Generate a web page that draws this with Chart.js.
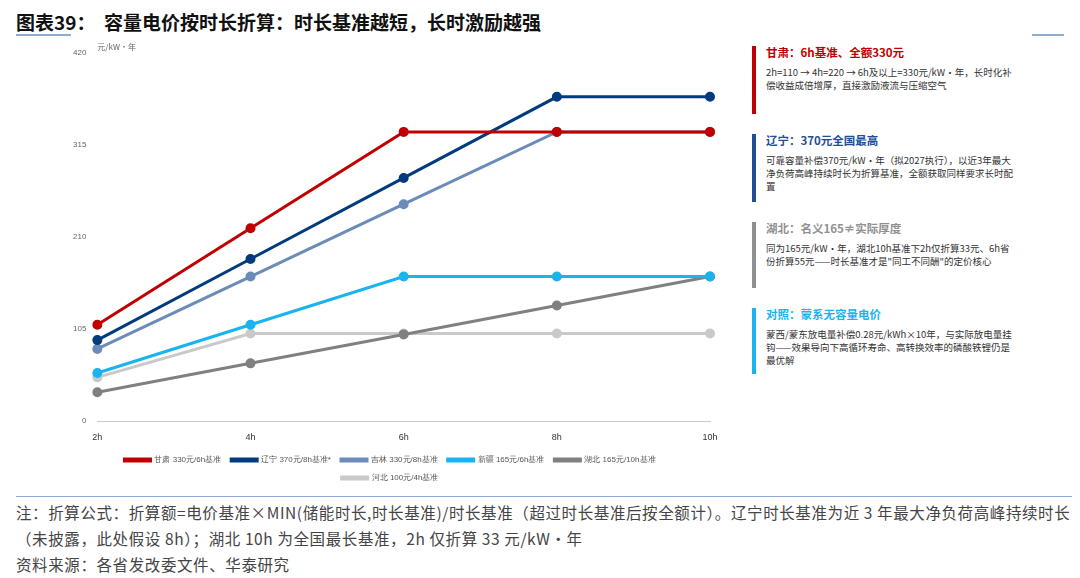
<!DOCTYPE html>
<html><head><meta charset="utf-8">
<script src="https://cdn.jsdelivr.net/npm/chart.js@4"></script>
<style>
body{margin:0;width:1080px;height:578px;background:#fff;font-family:"Noto Sans CJK SC","Noto Sans",sans-serif;position:relative;overflow:hidden}
#title{position:absolute;left:16px;top:8px;font-size:19px;font-weight:bold;color:#111}
.ln{position:absolute;height:2px;background:#8eaad6}
#wrap{position:absolute;left:40px;top:40px;width:690px;height:452px}
.note{position:absolute;left:752px;width:252px;border-left:4px solid;padding-left:10px;font-size:9.5px;color:#333;line-height:13px}
.note b{display:block;font-size:11.5px;margin-bottom:7px}
#foot{position:absolute;left:16px;top:496px;width:1056px;font-size:15.5px;color:#444;line-height:26px;border-top:1.5px solid #8eaad6;padding-top:2px;letter-spacing:0.6px}
</style></head><body>
<div id="title">图表39：&nbsp; 容量电价按时长折算：时长基准越短，长时激励越强</div>
<div class="ln" style="left:16px;top:34px;width:55px"></div>
<div class="ln" style="left:1032px;top:34px;width:32px"></div>
<div id="wrap"><canvas id="c" width="690" height="452"></canvas></div>
<div class="note" style="top:46px;height:68px;border-color:#c00000"><b style="color:#c00000">甘肃：6h基准、全额330元</b>2h=110 → 4h=220 → 6h及以上=330元/kW·年，长时化补偿收益成倍增厚，直接激励液流与压缩空气</div>
<div class="note" style="top:134px;height:68px;border-color:#1f4e96"><b style="color:#1f4e96">辽宁：370元全国最高</b>可靠容量补偿370元/kW·年（拟2027执行），以近3年最大净负荷高峰持续时长为折算基准，全额获取同样要求长时配置</div>
<div class="note" style="top:222px;height:66px;border-color:#909090"><b style="color:#909090">湖北：名义165≠实际厚度</b>同为165元/kW·年，湖北10h基准下2h仅折算33元、6h省份折算55元——时长基准才是"同工不同酬"的定价核心</div>
<div class="note" style="top:308px;height:66px;border-color:#19b4ef"><b style="color:#19b4ef">对照：蒙系无容量电价</b>蒙西/蒙东放电量补偿0.28元/kWh×10年，与实际放电量挂钩——效果导向下高循环寿命、高转换效率的磷酸铁锂仍是最优解</div>
<div id="foot">注：折算公式：折算额=电价基准×MIN(储能时长,时长基准)/时长基准（超过时长基准后按全额计）。辽宁时长基准为近 3 年最大净负荷高峰持续时长（未披露，此处假设 8h）；湖北 10h 为全国最长基准，2h 仅折算 33 元/kW·年<br>资料来源：各省发改委文件、华泰研究</div>
<script>
const categories=["2h","4h","6h","8h","10h"];
const gansu=[110,220,330,330,330];
const liaoning=[92.5,185,277.5,370,370];
const jilin=[82.5,165,247.5,330,330];
const xinjiang=[55,110,165,165,165];
const hubei=[33,66,99,132,165];
const hebei=[50,100,100,100,100];
const yTicks=[0,105,210,315,420];
const names=["甘肃 330元/6h基准","辽宁 370元/8h基准*","吉林 330元/8h基准","新疆 165元/6h基准","湖北 165元/10h基准","河北 100元/4h基准"];
const colors=["#c00000","#003b7e","#6b8bb8","#19b4ef","#808080","#c9c9c9"];
const series=[gansu,liaoning,jilin,xinjiang,hubei,hebei];
new Chart(document.getElementById('c'),{type:'line',
data:{labels:categories,datasets:series.map((d,i)=>({label:names[i],data:d,borderColor:colors[i],backgroundColor:colors[i],borderWidth:3,pointRadius:3.5,pointBackgroundColor:colors[i],tension:0}))},
options:{responsive:false,animation:false,
layout:{padding:{left:30,right:20,top:13,bottom:0}},
plugins:{legend:{position:'bottom',labels:{boxWidth:26,boxHeight:2,font:{size:8},color:'#555',padding:10}},tooltip:{enabled:false}},
scales:{x:{grid:{display:false},border:{color:'#ccc'},ticks:{color:'#333',font:{size:9}}},
y:{min:0,max:420,afterBuildTicks:s=>{s.ticks=yTicks.map(v=>({value:v}))},grid:{display:false},border:{display:false},ticks:{color:'#666',font:{size:8}}}}},
plugins:[{id:'unit',afterDraw(c){const x=c.ctx;x.save();x.font='8px "Noto Sans CJK SC"';x.fillStyle='#666';x.fillText('元/kW·年',c.chartArea.left,c.chartArea.top-6);x.restore();}}]});
</script>
</body></html>
